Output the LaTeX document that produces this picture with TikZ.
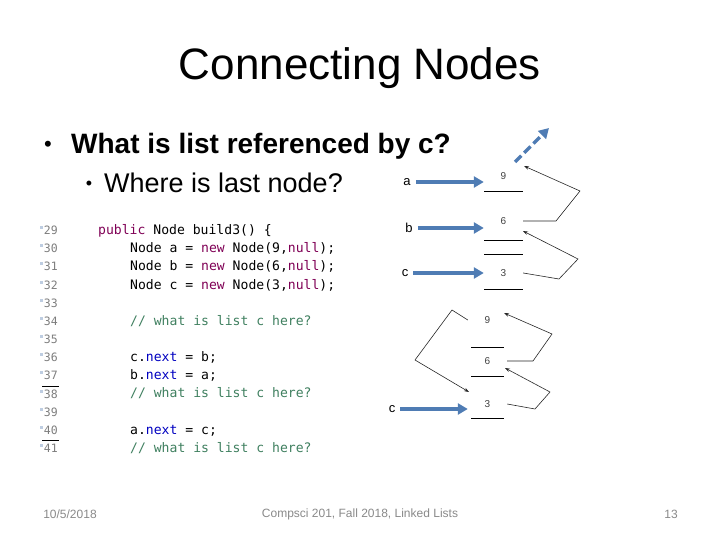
\documentclass[tikz,border=0pt]{standalone}
\usepackage{fontspec}
\setmainfont{Liberation Sans}
\setmonofont{DejaVu Sans Mono}
\usepackage{tikz}
\usetikzlibrary{arrows.meta}

\definecolor{refblue}{RGB}{79,124,180}
\definecolor{kwpurple}{RGB}{127,0,85}
\definecolor{fieldblue}{RGB}{0,0,192}
\definecolor{cmtgreen}{RGB}{63,127,95}
\definecolor{lnogrey}{RGB}{125,125,125}
\definecolor{markblue}{RGB}{190,205,225}
\definecolor{footgrey}{RGB}{137,137,137}

\newcommand{\kw}[1]{\textcolor{kwpurple}{#1}}
\newcommand{\fld}[1]{\textcolor{fieldblue}{#1}}
\newcommand{\cmt}[1]{\textcolor{cmtgreen}{#1}}

\tikzset{
  codeline/.style={anchor=west, inner sep=0pt, font=\fontsize{13.1}{15}\ttfamily, text height=9.5pt, text depth=2.5pt},
  lineno/.style={anchor=east, inner sep=0pt, font=\fontsize{11.5}{14}\ttfamily, text=lnogrey, text height=9pt, text depth=2pt},
  cellval/.style={inner sep=1pt, minimum width=39pt, font=\fontsize{10}{12}\selectfont, text=black!75},
  varname/.style={inner sep=1pt, font=\fontsize{13}{15}\selectfont},
  refarrow/.style={draw=refblue, line width=3.2pt, shorten <=4pt, -{Triangle[length=10pt,width=11pt]}},
  nextarrow/.style={draw=black!85, line width=0.6pt, -{Stealth[length=5pt,width=3.5pt]}},
  cellline/.style={draw=black, line width=0.8pt}
}

\begin{document}
\begin{tikzpicture}[x=1pt,y=1pt,yscale=-1]
\useasboundingbox (0,0) rectangle (720,540);

% Title
\node (title) at (360,68) {\fontsize{44}{50}\selectfont Connecting Nodes};

% Bullets
\node (bul1) at (48,146) {\fontsize{22}{26}\selectfont •};
\node[anchor=base west, inner sep=0pt] (q1) at (71,154) {\fontsize{28}{32}\selectfont\bfseries What is list referenced by c?};
\node (bul2) at (89,185) {\fontsize{18}{22}\selectfont •};
\node[anchor=base west, inner sep=0pt] (q2) at (104,193) {\fontsize{27}{32}\selectfont Where is last node?};

% Line numbers and gutter marks
\foreach \n [count=\i from 0] in {29,...,41} {
  \node[lineno] (ln\n) at (58,231+\i*18.17) {\n};
  \fill[markblue] (40,226+\i*18.17) rectangle (43,229+\i*18.17);
}
\draw[line width=0.8pt] (42,386) -- (59,386);
\draw[line width=0.8pt] (42,440) -- (59,440);

% Code
\node[codeline] (c29) at (98,231) {\kw{public} Node build3() \{};
\node[codeline] (c30) at (130,249.2) {Node a = \kw{new} Node(9,\kw{null});};
\node[codeline] (c31) at (130,267.3) {Node b = \kw{new} Node(6,\kw{null});};
\node[codeline] (c32) at (130,285.5) {Node c = \kw{new} Node(3,\kw{null});};
\node[codeline] (c34) at (130,321.7) {\cmt{// what is list c here?}};
\node[codeline] (c36) at (130,358.0) {c.\fld{next} = b;};
\node[codeline] (c37) at (130,376.2) {b.\fld{next} = a;};
\node[codeline] (c38) at (130,394.4) {\cmt{// what is list c here?}};
\node[codeline] (c40) at (130,430.7) {a.\fld{next} = c;};
\node[codeline] (c41) at (130,448.8) {\cmt{// what is list c here?}};

% Upper list: variables and cells
\node[varname] (a) at (407,182) {a};
\node[varname] (b) at (409,228) {b};
\node[varname] (c) at (405,273) {c};
\node[cellval] (nine) at (503.5,176) {9};
\node[cellval] (six) at (503.5,221) {6};
\node[cellval] (three) at (503.5,273) {3};
\draw[cellline] (484,191) -- (523,191);
\draw[cellline] (484,240) -- (523,240);
\draw[cellline] (484,254) -- (523,254);
\draw[cellline] (484,289) -- (523,289);

\draw[refarrow] (a) -- (a -| nine.west);
\draw[refarrow] (b) -- (b -| six.west);
\draw[refarrow] (c) -- (c -| three.west);

\coordinate (dashfrom) at (515,162);
\coordinate (dashto) at (549,128);
\draw[refarrow, shorten <=0pt, dash pattern=on 9pt off 4pt] (dashfrom) -- (dashto);

\coordinate (nineback) at (524,166);
\coordinate (sixback) at (523,231);
\draw[nextarrow] (six.east) -- (556,221) -- (580,191) -- (nineback);
\draw[nextarrow] (three.east) -- (559,279) -- (578,259) -- (sixback);

% Lower list: variable and cells
\node[varname] (clast) at (392,409) {c};
\node[cellval] (ninelow) at (487.5,320) {9};
\node[cellval] (sixlow) at (487.5,361) {6};
\node[cellval] (threelow) at (487.5,404) {3};
\draw[cellline] (471,347) -- (504,347);
\draw[cellline] (471,376) -- (504,376);
\draw[cellline] (471,418) -- (504,418);

\draw[refarrow] (clast) -- (clast -| threelow.west);

\coordinate (ninelowback) at (504,313);
\coordinate (sixlowback) at (505,368);
\coordinate (threelowin) at (469,392);
\draw[nextarrow] (sixlow.east) -- (533,361) -- (552,334) -- (ninelowback);
\draw[nextarrow] (threelow.east) -- (535,409) -- (550,392) -- (sixlowback);
\draw[nextarrow] (ninelow.west) -- (452,310) -- (415,360) -- (threelowin);

% Footer
\node[text=footgrey] (date) at (70,514) {\fontsize{12}{14}\selectfont 10/5/2018};
\node[text=footgrey] (course) at (360,514) {\fontsize{12}{14}\selectfont Compsci 201, Fall 2018, Linked Lists};
\node[text=footgrey] (page) at (671,514) {\fontsize{12}{14}\selectfont 13};
\end{tikzpicture}
\end{document}
